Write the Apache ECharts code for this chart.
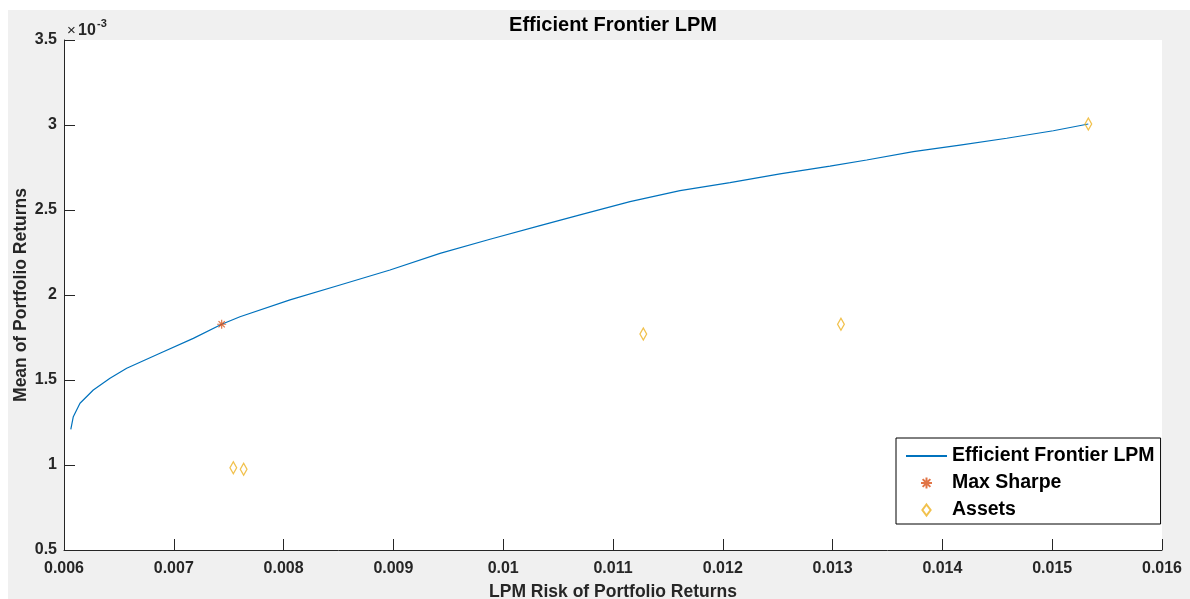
<!DOCTYPE html>
<html>
<head>
<meta charset="utf-8">
<script src="https://cdn.jsdelivr.net/npm/echarts@6/dist/echarts.min.js"></script>
<style>
html,body{margin:0;padding:0;background:#ffffff;width:1190px;height:599px;overflow:hidden;}
#chart{position:absolute;left:8px;top:10px;width:1182px;height:589px;background:#f0f0f0;}
</style>
</head>
<body>
<div id="chart"></div>
<script>
// Efficient frontier (LPM risk, mean return)
const frontierRisk = [0.006062, 0.0060847, 0.0061457, 0.0062668, 0.0064189, 0.0065710, 0.0068743, 0.0071776, 0.0074362, 0.0076029, 0.0080583, 0.0085137, 0.0089690, 0.0094244, 0.0098798, 0.0103352, 0.0106995, 0.0111548, 0.0116102, 0.0120656, 0.0125209, 0.0129763, 0.0133106, 0.0137350, 0.0141603, 0.0145856, 0.0150100, 0.0153288];
const frontierMean = [0.001210, 0.001284, 0.001363, 0.001441, 0.001510, 0.001569, 0.001657, 0.001745, 0.001828, 0.001872, 0.001971, 0.002059, 0.002147, 0.002245, 0.002328, 0.002408, 0.002471, 0.002549, 0.002614, 0.002661, 0.002712, 0.002758, 0.002794, 0.002843, 0.002882, 0.002922, 0.002966, 0.003006];
// Max Sharpe portfolio
const maxSharpeRisk = [0.007436];
const maxSharpeMean = [0.001828];
// Assets
const assetRisk = [0.007542, 0.007636, 0.011276, 0.013076, 0.015329];
const assetMean = [0.000984, 0.000975, 0.001771, 0.001828, 0.003006];
// Axes
const xTicks = [0.006, 0.007, 0.008, 0.009, 0.010, 0.011, 0.012, 0.013, 0.014, 0.015, 0.016];
const yTicks = [0.0005, 0.001, 0.0015, 0.002, 0.0025, 0.003, 0.0035];

const zip = (a, b) => a.map((v, i) => [v, b[i]]);
const FONT = '"Liberation Sans", Arial, sans-serif';
const TXT = '#262626';

const chart = echarts.init(document.getElementById('chart'), null, {renderer: 'canvas'});
chart.setOption({
  backgroundColor: '#f0f0f0',
  animation: false,
  grid: {left: 56, right: 28, top: 30, bottom: 49, show: true, backgroundColor: '#ffffff', borderWidth: 0,
    containLabel: false, outerBoundsMode: 'none'},
  xAxis: {
    type: 'value', min: xTicks[0], max: xTicks[xTicks.length - 1], interval: 0.001,
    name: 'LPM Risk of Portfolio Returns', nameLocation: 'middle', nameGap: 33, nameMoveOverlap: false,
    nameTextStyle: {fontFamily: FONT, fontWeight: 'bold', fontSize: 17.5, color: TXT},
    axisLine: {show: true, lineStyle: {color: TXT, width: 1}},
    axisTick: {show: true, inside: true, length: 11, lineStyle: {color: TXT}},
    splitLine: {show: false},
    axisLabel: {fontFamily: FONT, fontWeight: 'bold', fontSize: 16, color: TXT, margin: 11,
      formatter: v => String(parseFloat(v.toFixed(3)))}
  },
  yAxis: {
    type: 'value', min: yTicks[0], max: yTicks[yTicks.length - 1], interval: 0.0005,
    name: 'Mean of Portfolio Returns', nameLocation: 'middle', nameGap: 34, nameMoveOverlap: false,
    nameTextStyle: {fontFamily: FONT, fontWeight: 'bold', fontSize: 17.5, color: TXT},
    axisLine: {show: true, lineStyle: {color: TXT, width: 1}},
    axisTick: {show: true, inside: true, length: 11, lineStyle: {color: TXT}},
    splitLine: {show: false},
    axisLabel: {fontFamily: FONT, fontWeight: 'bold', fontSize: 16, color: TXT, margin: 7,
      formatter: v => String(Math.round(v * 1e4) / 10)}
  },
  legend: {
    orient: 'vertical', left: 888, top: 428,
    padding: [8, 6, 4, 9], itemGap: 7, itemWidth: 41, itemHeight: 11,
    backgroundColor: '#ffffff', borderColor: '#000000', borderWidth: 1, borderRadius: 0,
    textStyle: {fontFamily: FONT, fontWeight: 'bold', fontSize: 19.5, color: '#000000', lineHeight: 20},
    data: [
      {name: 'Efficient Frontier LPM', itemStyle: {opacity: 0, color: 'transparent', borderWidth: 0}},
      'Max Sharpe',
      'Assets'
    ]
  },
  graphic: [
    {type: 'text', x: 605, y: 15, style: {text: 'Efficient Frontier LPM', font: 'bold 20px ' + FONT, fill: '#000000', textAlign: 'center', textVerticalAlign: 'middle'}},
    {type: 'text', x: 59, y: 21, style: {text: '×', font: '15px ' + FONT, fill: TXT, textAlign: 'left', textVerticalAlign: 'middle'}},
    {type: 'text', x: 70, y: 21, style: {text: '10', font: 'bold 16px ' + FONT, fill: TXT, textAlign: 'left', textVerticalAlign: 'middle'}},
    {type: 'text', x: 89, y: 14, style: {text: '-3', font: 'bold 11px ' + FONT, fill: TXT, textAlign: 'left', textVerticalAlign: 'middle'}}
  ],
  series: [
    {
      name: 'Efficient Frontier LPM', type: 'line', data: zip(frontierRisk, frontierMean),
      symbol: 'none', showSymbol: false, smooth: false,
      lineStyle: {color: '#0072BD', width: 1.2}, itemStyle: {color: '#0072BD'}, z: 2
    },
    {
      name: 'Max Sharpe', type: 'scatter', data: zip(maxSharpeRisk, maxSharpeMean),
      symbol: 'path://M0,-5L0,5M-5,0L5,0M-3.5,-3.5L3.5,3.5M-3.5,3.5L3.5,-3.5', symbolSize: 9, symbolKeepAspect: true,
      itemStyle: {color: 'transparent', borderColor: '#D95319', borderWidth: 1.2}, z: 4
    },
    {
      name: 'Assets', type: 'scatter', data: zip(assetRisk, assetMean),
      symbol: 'path://M3,0L6,4L3,8L0,4Z', symbolSize: [9, 12], symbolKeepAspect: true,
      itemStyle: {color: 'transparent', borderColor: '#EDB120', borderWidth: 1.3}, z: 3
    }
  ]
});
</script>
</body>
</html>
